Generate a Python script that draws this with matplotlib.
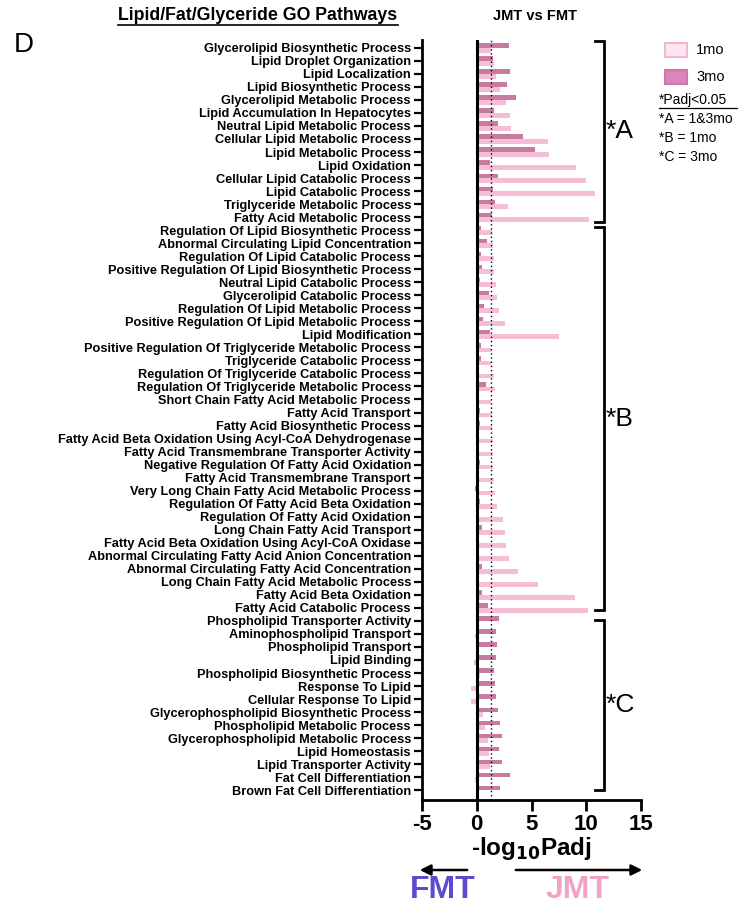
import numpy as np
import matplotlib
matplotlib.use("Agg")
import matplotlib.pyplot as plt
from matplotlib.patches import Rectangle, FancyArrowPatch

plt.rcParams['font.family'] = ['Liberation Sans', 'DejaVu Sans']

pathways = [
    "Glycerolipid Biosynthetic Process", "Lipid Droplet Organization", "Lipid Localization",
    "Lipid Biosynthetic Process", "Glycerolipid Metabolic Process", "Lipid Accumulation In Hepatocytes",
    "Neutral Lipid Metabolic Process", "Cellular Lipid Metabolic Process", "Lipid Metabolic Process",
    "Lipid Oxidation", "Cellular Lipid Catabolic Process", "Lipid Catabolic Process",
    "Triglyceride Metabolic Process", "Fatty Acid Metabolic Process",
    "Regulation Of Lipid Biosynthetic Process", "Abnormal Circulating Lipid Concentration",
    "Regulation Of Lipid Catabolic Process", "Positive Regulation Of Lipid Biosynthetic Process",
    "Neutral Lipid Catabolic Process", "Glycerolipid Catabolic Process",
    "Regulation Of Lipid Metabolic Process", "Positive Regulation Of Lipid Metabolic Process",
    "Lipid Modification", "Positive Regulation Of Triglyceride Metabolic Process",
    "Triglyceride Catabolic Process", "Regulation Of Triglyceride Catabolic Process",
    "Regulation Of Triglyceride Metabolic Process", "Short Chain Fatty Acid Metabolic Process",
    "Fatty Acid Transport", "Fatty Acid Biosynthetic Process",
    "Fatty Acid Beta Oxidation Using Acyl-CoA Dehydrogenase",
    "Fatty Acid Transmembrane Transporter Activity", "Negative Regulation Of Fatty Acid Oxidation",
    "Fatty Acid Transmembrane Transport", "Very Long Chain Fatty Acid Metabolic Process",
    "Regulation Of Fatty Acid Beta Oxidation", "Regulation Of Fatty Acid Oxidation",
    "Long Chain Fatty Acid Transport", "Fatty Acid Beta Oxidation Using Acyl-CoA Oxidase",
    "Abnormal Circulating Fatty Acid Anion Concentration", "Abnormal Circulating Fatty Acid Concentration",
    "Long Chain Fatty Acid Metabolic Process", "Fatty Acid Beta Oxidation", "Fatty Acid Catabolic Process",
    "Phospholipid Transporter Activity", "Aminophospholipid Transport", "Phospholipid Transport",
    "Lipid Binding", "Phospholipid Biosynthetic Process", "Response To Lipid",
    "Cellular Response To Lipid", "Glycerophospholipid Biosynthetic Process",
    "Phospholipid Metabolic Process", "Glycerophospholipid Metabolic Process", "Lipid Homeostasis",
    "Lipid Transporter Activity", "Fat Cell Differentiation", "Brown Fat Cell Differentiation",
]

# -log10 Padj, 3 month
mo3 = [2.98, 1.46, 3.07, 2.80, 3.62, 1.58, 1.98, 4.20, 5.36, 1.25, 1.92, 1.52, 1.64, 1.40,
       0.37, 0.91, 0.37, 0.46, 0.30, 1.13, 0.64, 0.58, 1.25, 0.37, 0.40, 0.15, 0.88, 0.05,
       0.33, 0.27, 0.15, 0.20, 0.33, 0.02, -0.20, 0.27, 0.02, 0.46, 0.02, 0.24, 0.52, 0.02,
       0.49, 1.03,
       2.07, 1.74, 1.83, 1.80, 1.58, 1.67, 1.80, 1.95, 2.10, 2.31, 2.04, 2.28, 3.04, 2.10]
# -log10 Padj, 1 month
mo1 = [1.30, 1.55, 1.77, 2.13, 2.68, 3.04, 3.13, 6.54, 6.64, 9.10, 9.98, 10.78, 2.89, 10.23,
       1.37, 1.49, 1.55, 1.61, 1.77, 1.86, 2.04, 2.62, 7.52, 1.31, 1.31, 1.61, 1.64, 1.31,
       1.37, 1.40, 1.49, 1.49, 1.49, 1.58, 1.67, 1.83, 2.40, 2.59, 2.71, 2.95, 3.80, 5.60,
       8.98, 10.14,
       0.10, -0.20, 0.10, -0.27, 0.30, -0.52, -0.55, 0.58, 0.73, 1.03, 1.16, 1.22, -0.20, 0.18]

groups = [("*A", -0.54, 13.36), ("*B", 13.75, 43.2), ("*C", 43.9, 57.0)]

W, H = 745, 907
fig = plt.figure(figsize=(W / 100, H / 100), dpi=100)
ax = fig.add_axes([422 / W, 1 - 800 / H, (641 - 422) / W, 760 / H])

y = np.arange(len(pathways))
bh = 0.36
ax.barh(y - 0.17, mo3, height=bh, color='#C67B9F', edgecolor='none', zorder=2)
ax.barh(y + 0.19, mo1, height=bh, color='#F6BDD7', edgecolor='none', zorder=2)

ax.axvline(0, color='black', lw=2.2, zorder=3)
ax.axvline(1.3, color='black', lw=1.0, ls=(0, (1, 2)), zorder=3)

ax.set_xlim(-5, 15)
ax.set_ylim(57.75, -0.6)
ax.set_xticks([-5, 0, 5, 10, 15])
ax.set_xticklabels(['-5', '0', '5', '10', '15'], fontsize=16, fontweight='bold')
ax.set_yticks(y)
ax.set_yticklabels(pathways, fontsize=9.2, fontweight='bold')
ax.tick_params(axis='x', length=8, width=2, pad=2)
ax.tick_params(axis='y', length=6, width=1.6, pad=2)
ax.spines['top'].set_visible(False)
ax.spines['right'].set_visible(False)
ax.spines['left'].set_linewidth(2)
ax.spines['bottom'].set_linewidth(2)
ax.set_xlabel('-log$_{\\mathbf{10}}$Padj', fontsize=17.5, fontweight='bold', labelpad=0)

# group brackets
for lab, y0, y1 in groups:
    xb, xt = 11.6, 10.8
    ax.plot([xt, xb, xb, xt], [y0, y0, y1, y1], color='black', lw=2, clip_on=False,
            solid_joinstyle='miter')
    ax.text(xb + 0.2, (y0 + y1) / 2, lab, fontsize=19, va='center', ha='left')

# legend drawn by hand
def fx(px):
    return px / W

def fy(py):
    return 1 - py / H

fig.add_artist(Rectangle((fx(665), fy(57)), 22 / W, 14 / H, transform=fig.transFigure,
                         facecolor='#FCE6F1', edgecolor='#F4B6D1', lw=1.5))
fig.add_artist(Rectangle((fx(665), fy(84)), 22 / W, 14 / H, transform=fig.transFigure,
                         facecolor='#DC86BA', edgecolor='#C87AA6', lw=1.5))
fig.text(fx(696), fy(50), '1mo', fontsize=10.5, va='center')
fig.text(fx(696), fy(77), '3mo', fontsize=10.5, va='center')
fig.text(fx(659), fy(100), '*Padj<0.05', fontsize=10, va='center')
fig.add_artist(plt.Line2D([fx(659), fx(737)], [fy(108), fy(108)], color='black', lw=0.9))
fig.text(fx(659), fy(119), '*A = 1&3mo', fontsize=10, va='center')
fig.text(fx(659), fy(138), '*B = 1mo', fontsize=10, va='center')
fig.text(fx(659), fy(157), '*C = 3mo', fontsize=10, va='center')

# titles
fig.text(fx(258), fy(16), 'Lipid/Fat/Glyceride GO Pathways', fontsize=12.8, fontweight='bold',
         ha='center', va='center')
fig.add_artist(plt.Line2D([fx(118), fx(398)], [fy(25), fy(25)], color='black', lw=1.2))
fig.text(fx(535), fy(16), 'JMT vs FMT', fontsize=10.5, fontweight='bold', ha='center', va='center')
fig.text(fx(24), fy(45), 'D', fontsize=20, ha='center', va='center')

# direction arrows
fig.add_artist(FancyArrowPatch((fx(470), fy(870)), (fx(417), fy(870)),
               transform=fig.transFigure, arrowstyle='-|>', mutation_scale=16, lw=1.8, color='black'))
fig.add_artist(FancyArrowPatch((fx(513), fy(870)), (fx(645), fy(870)),
               transform=fig.transFigure, arrowstyle='-|>', mutation_scale=16, lw=1.8, color='black'))
fig.text(fx(443), fy(890), 'FMT', fontsize=23, fontweight='bold', color='#5A4BCF',
         ha='center', va='center')
fig.text(fx(578), fy(890), 'JMT', fontsize=23, fontweight='bold', color='#F0A3C6',
         ha='center', va='center')

fig.savefig('out.png', dpi=100)
